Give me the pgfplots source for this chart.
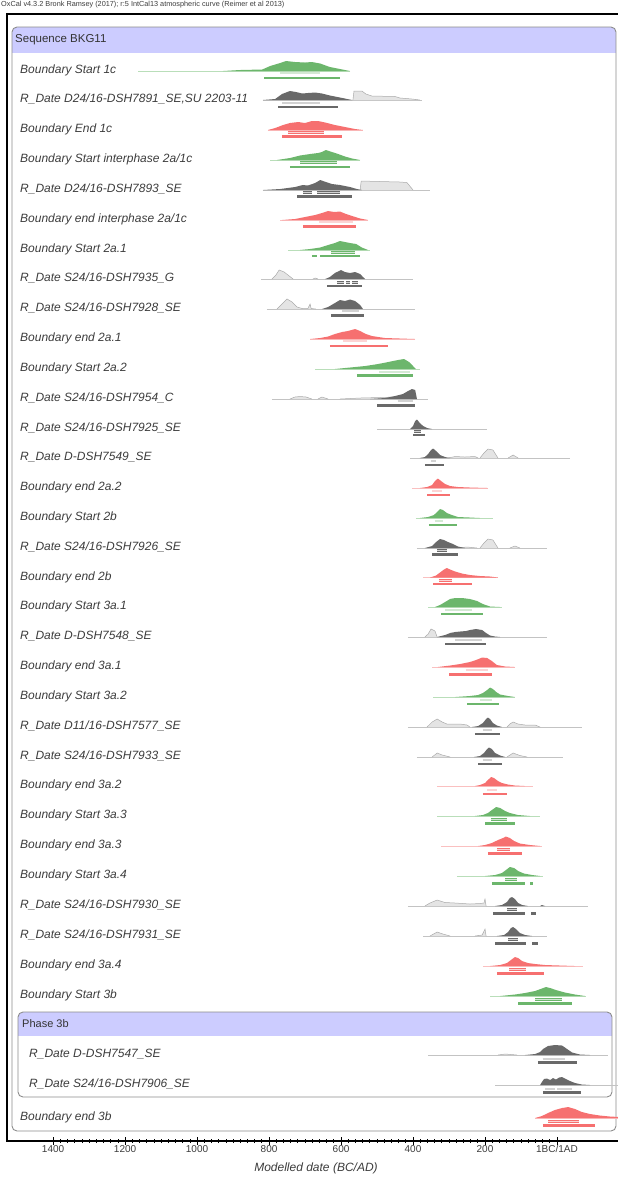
\documentclass[border=0pt]{standalone}
\usepackage{pgfplots}
\pgfplotsset{compat=1.18}
\usepackage{fontspec}
\setmainfont{Liberation Sans}

\definecolor{grn}{RGB}{108,182,108}
\definecolor{grnl}{RGB}{185,222,185}
\definecolor{red1}{RGB}{246,112,112}
\definecolor{redl}{RGB}{250,192,192}
\definecolor{gry}{RGB}{105,105,105}
\definecolor{gryp}{RGB}{195,195,195}
\definecolor{gryl}{RGB}{228,228,228}
\definecolor{gryo}{RGB}{170,170,170}
\definecolor{hdr}{RGB}{204,204,255}
\definecolor{bord}{RGB}{140,140,140}
\definecolor{lab}{RGB}{60,60,60}

% prior line, posterior, likelihood, 68% and 95% ranges
\newcommand{\pl}[4]{\addplot[#1,line width=0.9pt] coordinates {(#2,#4) (#3,#4)};}
\newcommand{\ps}[2]{\addplot[draw=none,fill=#1] coordinates {#2};}
\newcommand{\lk}[1]{\addplot[draw=gryo,fill=gryl,line width=0.5pt] coordinates {#1};}
\newcommand{\ra}[4]{\addplot[#1,line width=2.8pt] coordinates {(#2,#4) (#3,#4)};
  \addplot[#1!30!white,line width=1.2pt] coordinates {(#2,#4) (#3,#4)};}
\newcommand{\rb}[4]{\addplot[#1,line width=2.2pt] coordinates {(#2,#4) (#3,#4)};}

\begin{document}
\begin{tikzpicture}
\path[use as bounding box] (0pt,0pt) rectangle (618pt,-1181pt);

\begin{scope}[x=1pt,y=-1pt]
  \node[anchor=west, inner sep=0pt, font=\fontsize{7.3}{8}\selectfont, text=lab] at (1,5)
    {OxCal v4.3.2 Bronk Ramsey (2017); r:5 IntCal13 atmospheric curve (Reimer et al 2013)};
  % sequence box
  \begin{scope}
    \clip[rounded corners=5pt] (12,27) rectangle (616,1131);
    \fill[hdr] (12,27) rectangle (616,53);
  \end{scope}
  \draw[bord, line width=0.9pt, rounded corners=5pt] (12,27) rectangle (616,1131);
  % phase box
  \begin{scope}
    \clip[rounded corners=5pt] (18,1012) rectangle (612,1097);
    \fill[hdr] (18,1012) rectangle (612,1036);
  \end{scope}
  \draw[bord, line width=0.9pt, rounded corners=5pt] (18,1012) rectangle (612,1097);
  \node[anchor=west, inner sep=0pt, font=\fontsize{11.5}{13}\selectfont, text=black!80] at (15,40) {Sequence BKG11};
  \node[anchor=west, inner sep=0pt, font=\fontsize{11}{13}\selectfont, text=black!80] at (22,1024) {Phase 3b};
  \foreach \y/\t in {70/{Boundary Start 1c}, 99/{R\_Date D24/16-DSH7891\_SE,SU 2203-11},
      129/{Boundary End 1c}, 159/{Boundary Start interphase 2a/1c}, 189/{R\_Date D24/16-DSH7893\_SE},
      219/{Boundary end interphase 2a/1c}, 249/{Boundary Start 2a.1}, 278/{R\_Date S24/16-DSH7935\_G},
      308/{R\_Date S24/16-DSH7928\_SE}, 338/{Boundary end 2a.1}, 368/{Boundary Start 2a.2},
      398/{R\_Date S24/16-DSH7954\_C}, 428/{R\_Date S24/16-DSH7925\_SE}, 457/{R\_Date D-DSH7549\_SE},
      487/{Boundary end 2a.2}, 517/{Boundary Start 2b}, 547/{R\_Date S24/16-DSH7926\_SE},
      577/{Boundary end 2b}, 606/{Boundary Start 3a.1}, 636/{R\_Date D-DSH7548\_SE},
      666/{Boundary end 3a.1}, 696/{Boundary Start 3a.2}, 726/{R\_Date D11/16-DSH7577\_SE},
      756/{R\_Date S24/16-DSH7933\_SE}, 785/{Boundary end 3a.2}, 815/{Boundary Start 3a.3},
      845/{Boundary end 3a.3}, 875/{Boundary Start 3a.4}, 905/{R\_Date S24/16-DSH7930\_SE},
      935/{R\_Date S24/16-DSH7931\_SE}, 965/{Boundary end 3a.4}, 995/{Boundary Start 3b},
      1117/{Boundary end 3b}}
    \node[anchor=west, inner sep=0pt, font=\fontsize{12}{13}\selectfont\itshape, text=lab] at (20,\y) {\t};
  \foreach \y/\t in {1054/{R\_Date D-DSH7547\_SE}, 1084/{R\_Date S24/16-DSH7906\_SE}}
    \node[anchor=west, inner sep=0pt, font=\fontsize{12}{13}\selectfont\itshape, text=lab] at (29,\y) {\t};
  \node[font=\fontsize{12}{13}\selectfont\itshape, text=lab] at (316,1168) {Modelled date (BC/AD)};
\end{scope}

\begin{axis}[
  at={(7pt,-1141pt)}, anchor=south west,
  scale only axis, width=613pt, height=1127pt,
  xmin=-1528, xmax=175, ymin=14, ymax=1141, y dir=reverse,
  axis line style={draw=none},
  ytick=\empty,
  xtick={-1400,-1200,-1000,-800,-600,-400,-200,0},
  xticklabels={1400,1200,1000,800,600,400,200,1BC/1AD},
  minor x tick num=9,
  tick align=center, xtick pos=bottom,
  major tick length=8pt, minor tick length=4pt,
  tick style={black, line width=0.7pt},
  xticklabel style={font=\fontsize{10}{11}\selectfont, text=lab, yshift=3pt},
]
% 1 Boundary Start 1c
\pl{grnl}{-1164}{-575}{71}
\ps{grn}{(-928,71) (-881,70) (-819,69.5) (-797,66) (-769,63) (-753,61) (-728,62) (-700,62.5) (-681,62) (-658,63.5) (-631,67) (-603,69) (-575,71)}
\ra{grn}{-769}{-658}{73}
\rb{grn}{-814}{-603}{78}
% 2
\pl{gryp}{-817}{-375}{100}
\lk{(-567,100) (-564,91) (-542,91) (-531,94) (-514,96) (-450,96.5) (-436,98) (-403,99) (-381,100)}
\ps{gry}{(-817,100) (-783,99) (-764,94) (-742,91) (-725,92) (-708,93.5) (-692,93) (-672,92.5) (-653,93.5) (-631,95.5) (-603,97.5) (-569,100)}
\ra{gry}{-764}{-658}{103}
\rb{gry}{-775}{-608}{107}
% 3
\pl{redl}{-803}{-539}{130}
\ps{red1}{(-803,130) (-783,128) (-761,125) (-742,123) (-719,122) (-700,123) (-681,121) (-664,121) (-644,122.5) (-617,125) (-589,127) (-561,129) (-539,130)}
\ra{red1}{-747}{-647}{132.5}
\rb{red1}{-764}{-597}{136.5}
% 4
\pl{grnl}{-797}{-547}{160}
\ps{grn}{(-778,160) (-742,158) (-714,155.5) (-686,154) (-664,153) (-653,152) (-642,150) (-625,152) (-608,154) (-589,156.5) (-569,158.5) (-547,160)}
\ra{grn}{-714}{-611}{162.5}
\rb{grn}{-742}{-575}{167}
% 5
\pl{gryp}{-817}{-353}{190}
\lk{(-547,190) (-544,181) (-492,181.5) (-436,182) (-417,182.5) (-400,190)}
\ps{gry}{(-817,190) (-769,189) (-728,187) (-706,185) (-692,185.5) (-672,183) (-658,180) (-642,182) (-625,184) (-603,185) (-575,187) (-556,189) (-542,190)}
\ra{gry}{-706}{-681}{192.5}
\ra{gry}{-667}{-603}{192.5}
\rb{gry}{-722}{-569}{196.5}
% 6
\pl{redl}{-769}{-525}{220}
\ps{red1}{(-764,220) (-728,219) (-700,217) (-672,215) (-653,213) (-636,211) (-619,212) (-603,211.5) (-586,214) (-569,216) (-547,218.5) (-525,220)}
\ra{red1}{-661}{-567}{222}
\rb{red1}{-706}{-558}{226.5}
% 7
\pl{grnl}{-747}{-519}{250}
\ps{grn}{(-714,250) (-686,249) (-658,247.5) (-636,245) (-617,243) (-603,241) (-589,242) (-575,243) (-558,244) (-542,247.5) (-525,250)}
\ra{grn}{-628}{-561}{252.5}
\rb{grn}{-681}{-667}{256}
\rb{grn}{-658}{-547}{256}
% 8
\pl{gryp}{-822}{-400}{279}
\lk{(-792,279) (-781,275) (-772,270) (-758,272) (-744,276) (-733,279)}
\lk{(-678,279) (-672,278) (-664,279)}
\ps{gry}{(-644,279) (-631,277) (-617,273) (-600,270) (-589,272) (-575,273) (-561,272) (-547,274) (-539,277) (-533,279)}
\ra{gry}{-611}{-592}{282.5}
\ra{gry}{-586}{-575}{282.5}
\ra{gry}{-569}{-553}{282.5}
\rb{gry}{-639}{-542}{286}
% 9
\pl{gryp}{-806}{-394}{309}
\lk{(-778,309) (-764,304) (-750,299) (-736,302) (-722,307) (-708,308.5) (-692,308.5) (-686,304) (-683,308.5) (-670,309)}
\ps{gry}{(-653,309) (-636,307) (-617,303) (-603,300) (-589,301) (-575,299.5) (-561,301) (-547,305) (-539,309)}
\ra{gry}{-597}{-550}{311}
\rb{gry}{-628}{-536}{315.5}
% 10
\pl{redl}{-686}{-394}{339}
\ps{red1}{(-686,339) (-658,338) (-636,336.5) (-617,334) (-597,332) (-581,331) (-561,329) (-547,331) (-531,334) (-514,336) (-478,338) (-436,338.5) (-394,339)}
\ra{red1}{-594}{-528}{341}
\rb{red1}{-631}{-469}{346}
% 11
\pl{grnl}{-672}{-381}{369}
\ps{grn}{(-617,369) (-575,367.5) (-533,366) (-497,364) (-469,362) (-442,360) (-425,359) (-411,362) (-400,366) (-392,369)}
\ra{grn}{-494}{-408}{372}
\rb{grn}{-556}{-400}{375.5}
% 12
\pl{gryp}{-792}{-358}{399}
\lk{(-742,399) (-728,397) (-714,396.5) (-697,397) (-681,399)}
\lk{(-664,399) (-653,397) (-636,399)}
\lk{(-603,399) (-547,398) (-492,397.5) (-450,397) (-400,399)}
\ps{gry}{(-519,399) (-478,398) (-450,396) (-428,394) (-414,391) (-403,389) (-394,390) (-389,399)}
\ra{gry}{-442}{-400}{401}
\rb{gry}{-500}{-394}{405.5}
% 13
\pl{gryp}{-500}{-194}{429}
\ps{gry}{(-408,429) (-400,426) (-394,421) (-389,419.5) (-381,423) (-372,426) (-361,428) (-347,429)}
\ra{gry}{-397}{-378}{431.5}
\rb{gry}{-400}{-367}{435}
% 14
\pl{gryp}{-408}{36}{458}
\lk{(-303,458) (-283,456.5) (-256,457) (-228,456.5) (-219,458)}
\lk{(-214,458) (-203,453) (-192,449) (-178,450) (-164,458)}
\lk{(-136,458) (-122,455) (-108,458)}
\ps{gry}{(-381,458) (-367,457) (-358,454) (-350,450) (-344,448.5) (-336,451) (-325,455) (-311,457) (-297,458)}
\ra{gry}{-350}{-336}{461}
\rb{gry}{-367}{-314}{465}
% 15
\pl{redl}{-403}{-192}{488}
\ps{red1}{(-381,488) (-361,487) (-347,485) (-339,481) (-331,478.5) (-322,481) (-311,484) (-297,486) (-275,487) (-242,487.5) (-192,488)}
\ra{red1}{-347}{-319}{491}
\rb{red1}{-361}{-297}{495}
% 16
\pl{grnl}{-392}{-178}{518}
\ps{grn}{(-381,518) (-358,517) (-342,515) (-333,512) (-325,509) (-317,510) (-306,513) (-292,515) (-275,517) (-242,517.5) (-214,518)}
\ra{grn}{-339}{-317}{521}
\rb{grn}{-356}{-278}{525}
% 17
\pl{gryp}{-389}{-28}{548}
\lk{(-278,548) (-250,547) (-222,548)}
\lk{(-214,548) (-203,543) (-192,539) (-178,540) (-164,548)}
\lk{(-131,548) (-117,546) (-103,548)}
\ps{gry}{(-367,548) (-347,546) (-336,542) (-325,539) (-314,540) (-303,542) (-289,544) (-275,546.5) (-256,548)}
\ra{gry}{-333}{-306}{550.5}
\rb{gry}{-347}{-275}{554.5}
% 18
\pl{redl}{-372}{-164}{577.5}
\ps{red1}{(-353,577.5) (-336,575.5) (-325,572.5) (-314,569.5) (-306,568) (-297,569.5) (-283,571.5) (-264,573.5) (-242,575) (-214,576) (-186,576.5) (-164,577.5)}
\ra{red1}{-328}{-292}{580.5}
\rb{red1}{-344}{-236}{584}
% 19
\pl{grnl}{-358}{-153}{607}
\ps{grn}{(-339,607) (-325,605) (-311,602) (-297,599) (-283,598) (-264,598) (-242,599) (-222,601) (-206,604) (-186,606.5) (-158,607)}
\ra{grn}{-311}{-236}{610}
\rb{grn}{-322}{-206}{614}
% 20
\pl{gryp}{-414}{-28}{637}
\lk{(-367,637) (-358,634) (-350,629) (-339,631) (-333,637)}
\ps{gry}{(-333,637) (-311,635) (-297,633) (-283,632) (-269,631.5) (-253,631) (-242,630) (-225,629) (-208,630) (-197,633) (-186,635.5) (-172,636.5) (-158,637)}
\ra{gry}{-283}{-208}{640}
\rb{gry}{-311}{-197}{644}
% 21
\pl{redl}{-347}{-117}{667}
\ps{red1}{(-331,667) (-297,665.5) (-269,664) (-242,662) (-225,660) (-208,657.5) (-194,658) (-181,661) (-167,665) (-144,666.5) (-117,667)}
\ra{red1}{-253}{-192}{670}
\rb{red1}{-300}{-181}{674.5}
% 22
\pl{grnl}{-344}{-117}{697}
\ps{grn}{(-283,697) (-242,696) (-219,695) (-206,693) (-194,690) (-186,687.5) (-178,689) (-169,692) (-158,694.5) (-136,696) (-117,697)}
\ra{grn}{-214}{-181}{700}
\rb{grn}{-250}{-161}{704}
% 23
\pl{gryp}{-414}{69}{727}
\lk{(-361,727) (-347,722) (-333,719) (-319,722) (-306,724) (-269,724) (-250,725) (-242,727)}
\lk{(-139,727) (-131,724) (-122,722) (-108,724) (-89,725) (-61,725) (-47,727)}
\ps{gry}{(-236,727) (-219,726) (-206,723) (-197,719) (-192,717.5) (-186,719) (-178,723) (-167,725.5) (-153,727)}
\ra{gry}{-206}{-181}{730}
\rb{gry}{-228}{-158}{734}
% 24
\pl{gryp}{-389}{17}{757}
\lk{(-347,757) (-333,753) (-319,755) (-297,757)}
\lk{(-139,757) (-122,753) (-103,755.5) (-83,757)}
\ps{gry}{(-231,757) (-214,756) (-203,753) (-194,749) (-189,747.5) (-181,749) (-172,753) (-158,755.5) (-144,757)}
\ra{gry}{-206}{-181}{760}
\rb{gry}{-219}{-153}{764}
% 25
\pl{redl}{-333}{-67}{786}
\ps{red1}{(-228,786) (-214,785) (-200,783) (-192,780) (-183,777) (-175,778) (-164,781) (-153,783) (-136,784.5) (-117,785.5) (-89,786)}
\ra{red1}{-194}{-167}{790}
\rb{red1}{-206}{-139}{794}
% 26
\pl{grnl}{-333}{-47}{816}
\ps{grn}{(-228,816) (-206,815) (-192,813) (-181,810) (-169,807) (-158,808) (-144,811) (-131,813) (-108,815) (-75,816)}
\ra{grn}{-183}{-139}{819.5}
\rb{grn}{-200}{-117}{823.5}
% 27
\pl{redl}{-322}{-42}{846}
\ps{red1}{(-219,846) (-200,845) (-181,843) (-164,840) (-150,838) (-142,836.5) (-131,838) (-119,841) (-103,843.5) (-75,845) (-47,846)}
\ra{red1}{-167}{-131}{849.5}
\rb{red1}{-192}{-97}{853.5}
% 28
\pl{grnl}{-278}{-39}{876}
\ps{grn}{(-200,876) (-172,875) (-153,873) (-142,870) (-131,867) (-119,868) (-108,871) (-92,873.5) (-69,875) (-47,876)}
\ra{grn}{-144}{-111}{879.5}
\rb{grn}{-181}{-89}{883.5}
\rb{grn}{-75}{-67}{883.5}
% 29
\pl{gryp}{-414}{86}{906}
\lk{(-367,906) (-353,903) (-333,900) (-311,902.5) (-283,903) (-261,903.5) (-242,904) (-214,903.5) (-203,903) (-200,899) (-197,906)}
\ps{gry}{(-172,906) (-153,905) (-139,902) (-131,898) (-125,897) (-117,899) (-108,903) (-97,905) (-81,906)}
\ps{gry}{(-47,906) (-42,905) (-33,906)}
\ra{gry}{-139}{-111}{909.5}
\rb{gry}{-178}{-89}{913.5}
\rb{gry}{-72}{-58}{913.5}
% 30
\pl{gryp}{-372}{-28}{936}
\lk{(-353,936) (-333,932) (-317,934) (-297,936)}
\lk{(-228,936) (-208,935) (-200,929) (-197,936)}
\ps{gry}{(-167,936) (-147,935) (-136,932) (-128,928) (-122,927) (-114,929) (-103,933) (-89,935) (-69,936)}
\ra{gry}{-136}{-108}{939.5}
\rb{gry}{-172}{-86}{943.5}
\rb{gry}{-69}{-53}{943.5}
% 31
\pl{redl}{-206}{72}{966}
\ps{red1}{(-186,966) (-158,965) (-139,963) (-128,960) (-117,957) (-108,958) (-97,961) (-81,963) (-61,964) (-33,965) (8,965.5) (50,966)}
\ra{red1}{-133}{-86}{969.5}
\rb{red1}{-167}{-36}{973.5}
% 32
\pl{grnl}{-186}{81}{996}
\ps{grn}{(-158,996) (-117,994.5) (-89,993) (-61,991) (-42,988.5) (-31,987) (-19,988) (-3,990) (22,992.5) (50,994.5) (78,996)}
\ra{grn}{-61}{14}{999.5}
\rb{grn}{-108}{42}{1003.5}
% 33 (phase 3b)
\pl{gryp}{-358}{142}{1055}
\lk{(-164,1055) (-144,1054) (-111,1055)}
\ps{gry}{(-89,1055) (-61,1054) (-47,1052) (-39,1049) (-25,1046) (-6,1045) (14,1045.5) (28,1049) (42,1052.5) (64,1054.5) (92,1055)}
\ra{gry}{-39}{22}{1059}
\rb{gry}{-53}{56}{1062.5}
% 34
\pl{gryp}{-172}{175}{1085}
\ps{gry}{(-47,1085) (-42,1082) (-36,1079) (-28,1078.5) (-19,1080) (-11,1078) (-3,1079.5) (6,1077.5) (14,1077) (25,1079) (36,1081) (50,1083) (69,1084.5) (92,1085)}
\ra{gry}{-33}{-6}{1089}
\ra{gry}{0}{42}{1089}
\rb{gry}{-39}{67}{1092.5}
% 35 Boundary end 3b
\pl{redl}{-61}{175}{1118}
\ps{red1}{(-61,1118) (-42,1116) (-25,1113) (-6,1110) (14,1108) (31,1107) (50,1109) (69,1112) (92,1114) (119,1115.5) (147,1116.5) (175,1117) (175,1118)}
\ra{red1}{-25}{61}{1121.5}
\rb{red1}{-39}{106}{1125.5}
\end{axis}

\begin{scope}[x=1pt,y=-1pt]
  \draw[black, line width=2.5pt] (7,14) -- (620,14);
  \draw[black, line width=2.5pt] (7,12.75) -- (7,1142.25);
  \draw[black, line width=2.5pt] (7,1141) -- (620,1141);
\end{scope}
\end{tikzpicture}
\end{document}
